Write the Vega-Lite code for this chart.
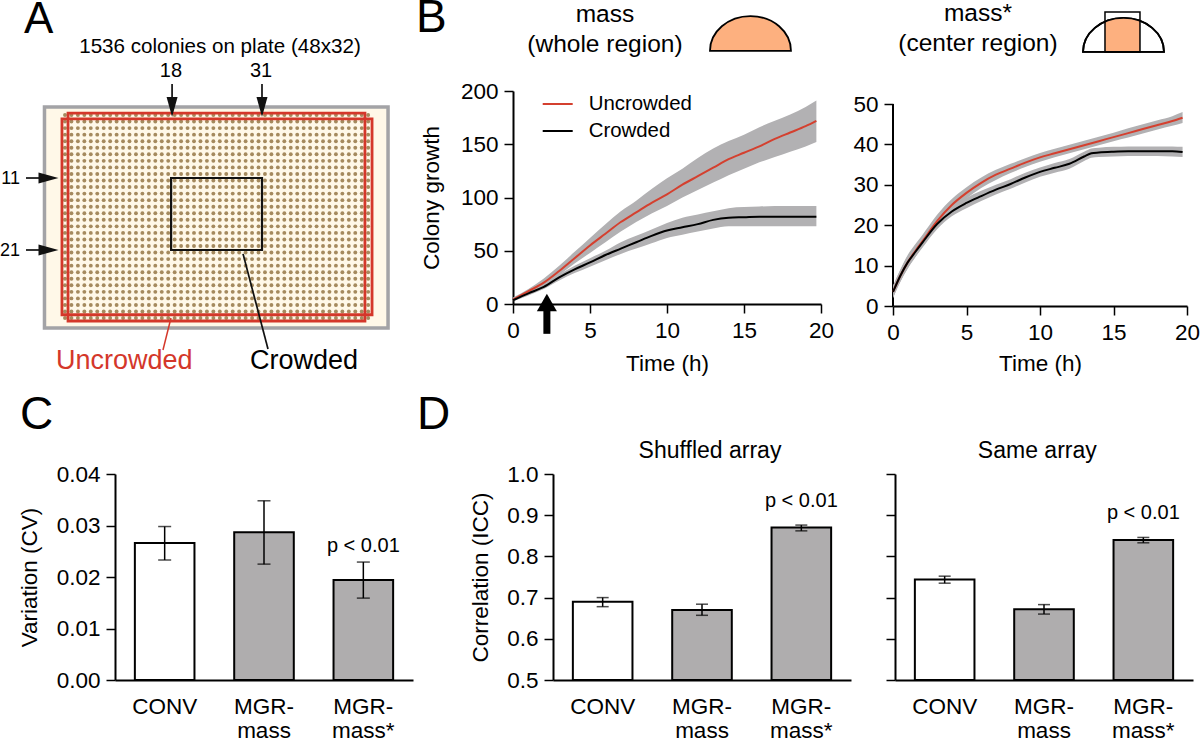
{
"$schema":"https://vega.github.io/schema/vega-lite/v6.json",
"autosize":{"type":"none"},
"padding":{"left":115,"top":91,"right":1085,"bottom":648},
"background":"white",
"bounds":"flush",
"spacing":383,
"config":{"view":{"stroke":null},"font":"Liberation Sans","axis":{"grid":false,"domainColor":"black","domainWidth":2,"tickColor":"black","tickWidth":1.5,"tickSize":9,"labelColor":"black","labelFont":"Liberation Sans","labelFontSize":22.5,"titleFont":"Liberation Sans","titleFontSize":22.5,"titleFontWeight":"normal","titleColor":"black","labelOverlap":false,"labelFlush":false,"labelPadding":6},"text":{"font":"Liberation Sans","color":"black"}},
"datasets":{
"whole":[
{"t":0,"s":"Uncrowded","m":4,"lo":3,"hi":6},{"t":1,"s":"Uncrowded","m":12,"lo":10,"hi":14},{"t":2,"s":"Uncrowded","m":20,"lo":17,"hi":24},{"t":3,"s":"Uncrowded","m":31,"lo":27,"hi":36},{"t":4,"s":"Uncrowded","m":43,"lo":38,"hi":49},{"t":5,"s":"Uncrowded","m":55,"lo":48,"hi":62},{"t":6,"s":"Uncrowded","m":66,"lo":58,"hi":75},{"t":7,"s":"Uncrowded","m":77,"lo":68,"hi":87},{"t":8,"s":"Uncrowded","m":86,"lo":77,"hi":97},{"t":9,"s":"Uncrowded","m":95,"lo":85,"hi":108},{"t":10,"s":"Uncrowded","m":103,"lo":92,"hi":118},{"t":11,"s":"Uncrowded","m":112,"lo":100,"hi":127},{"t":12,"s":"Uncrowded","m":120,"lo":107,"hi":137},{"t":13,"s":"Uncrowded","m":128,"lo":114,"hi":146},{"t":14,"s":"Uncrowded","m":136,"lo":121,"hi":153},{"t":15,"s":"Uncrowded","m":142,"lo":127,"hi":159},{"t":16,"s":"Uncrowded","m":148,"lo":133,"hi":166},{"t":17,"s":"Uncrowded","m":155,"lo":138,"hi":172},{"t":18,"s":"Uncrowded","m":161,"lo":143,"hi":178},{"t":19,"s":"Uncrowded","m":167,"lo":148,"hi":185},{"t":19.7,"s":"Uncrowded","m":172,"lo":152,"hi":191},
{"t":0,"s":"Crowded","m":3.5,"lo":2.5,"hi":5},{"t":1,"s":"Crowded","m":10,"lo":8,"hi":12},{"t":2,"s":"Crowded","m":16,"lo":14,"hi":19},{"t":3,"s":"Crowded","m":25,"lo":22,"hi":28},{"t":4,"s":"Crowded","m":32.5,"lo":29,"hi":36},{"t":5,"s":"Crowded","m":39,"lo":35,"hi":43},{"t":6,"s":"Crowded","m":46,"lo":41,"hi":50},{"t":7,"s":"Crowded","m":52,"lo":47,"hi":58},{"t":8,"s":"Crowded","m":58,"lo":52,"hi":64},{"t":9,"s":"Crowded","m":64,"lo":57,"hi":70},{"t":10,"s":"Crowded","m":69,"lo":62,"hi":76},{"t":11,"s":"Crowded","m":72,"lo":65,"hi":81},{"t":12,"s":"Crowded","m":75,"lo":68,"hi":84},{"t":13,"s":"Crowded","m":79,"lo":71,"hi":87},{"t":14,"s":"Crowded","m":81,"lo":73,"hi":90},{"t":15,"s":"Crowded","m":81.5,"lo":73,"hi":91},{"t":16,"s":"Crowded","m":82,"lo":73,"hi":91.5},{"t":17,"s":"Crowded","m":82,"lo":73,"hi":92},{"t":18,"s":"Crowded","m":82,"lo":73,"hi":92},{"t":19,"s":"Crowded","m":82,"lo":73,"hi":92},{"t":19.7,"s":"Crowded","m":82,"lo":73,"hi":92}],
"center":[
{"t":0,"s":"Uncrowded","m":3.5,"lo":2,"hi":5},{"t":0.5,"s":"Uncrowded","m":7.5,"lo":6,"hi":9},{"t":1,"s":"Uncrowded","m":10.8,"lo":9.3,"hi":12.6},{"t":1.5,"s":"Uncrowded","m":13.5,"lo":12,"hi":15.2},{"t":2,"s":"Uncrowded","m":16,"lo":14.6,"hi":17.6},{"t":3,"s":"Uncrowded","m":21,"lo":19.6,"hi":22.6},{"t":4,"s":"Uncrowded","m":25,"lo":23.6,"hi":26.5},{"t":5,"s":"Uncrowded","m":28,"lo":26.6,"hi":29.4},{"t":6,"s":"Uncrowded","m":30.5,"lo":29.2,"hi":31.8},{"t":7,"s":"Uncrowded","m":32.5,"lo":31.2,"hi":33.7},{"t":8,"s":"Uncrowded","m":34,"lo":32.9,"hi":35.2},{"t":9,"s":"Uncrowded","m":35.5,"lo":34.4,"hi":36.6},{"t":10,"s":"Uncrowded","m":36.8,"lo":35.7,"hi":37.9},{"t":11,"s":"Uncrowded","m":37.8,"lo":36.8,"hi":38.9},{"t":12,"s":"Uncrowded","m":38.8,"lo":37.8,"hi":39.9},{"t":13,"s":"Uncrowded","m":39.8,"lo":38.8,"hi":40.9},{"t":14,"s":"Uncrowded","m":40.8,"lo":39.8,"hi":41.9},{"t":15,"s":"Uncrowded","m":41.8,"lo":40.8,"hi":42.9},{"t":16,"s":"Uncrowded","m":42.8,"lo":41.7,"hi":44},{"t":17,"s":"Uncrowded","m":43.8,"lo":42.7,"hi":45},{"t":18,"s":"Uncrowded","m":44.8,"lo":43.7,"hi":46},{"t":19,"s":"Uncrowded","m":45.8,"lo":44.6,"hi":47},{"t":19.7,"s":"Uncrowded","m":46.6,"lo":45.3,"hi":48},
{"t":0,"s":"Crowded","m":3.5,"lo":2,"hi":5},{"t":0.5,"s":"Crowded","m":7.5,"lo":6,"hi":9},{"t":1,"s":"Crowded","m":10.8,"lo":9.3,"hi":12.3},{"t":1.5,"s":"Crowded","m":13.3,"lo":12,"hi":14.8},{"t":2,"s":"Crowded","m":15.7,"lo":14.4,"hi":17.2},{"t":3,"s":"Crowded","m":20.3,"lo":19,"hi":21.8},{"t":4,"s":"Crowded","m":23.4,"lo":22.2,"hi":24.8},{"t":5,"s":"Crowded","m":25.5,"lo":24.2,"hi":26.8},{"t":6,"s":"Crowded","m":27.2,"lo":26,"hi":28.5},{"t":7,"s":"Crowded","m":28.8,"lo":27.6,"hi":30},{"t":8,"s":"Crowded","m":30.2,"lo":29,"hi":31.4},{"t":9,"s":"Crowded","m":31.8,"lo":30.6,"hi":33},{"t":10,"s":"Crowded","m":33.2,"lo":32,"hi":34.3},{"t":11,"s":"Crowded","m":34.2,"lo":33,"hi":35.4},{"t":12,"s":"Crowded","m":35.2,"lo":34,"hi":36.4},{"t":13,"s":"Crowded","m":37,"lo":35.9,"hi":38.2},{"t":13.5,"s":"Crowded","m":37.8,"lo":36.7,"hi":39},{"t":14,"s":"Crowded","m":38,"lo":36.9,"hi":39.2},{"t":15,"s":"Crowded","m":38.2,"lo":37,"hi":39.4},{"t":16,"s":"Crowded","m":38.3,"lo":37.1,"hi":39.5},{"t":17,"s":"Crowded","m":38.3,"lo":37.1,"hi":39.5},{"t":18,"s":"Crowded","m":38.3,"lo":37.1,"hi":39.5},{"t":19,"s":"Crowded","m":38.3,"lo":37,"hi":39.5},{"t":19.7,"s":"Crowded","m":38.1,"lo":36.9,"hi":39.4}],
"cv":[{"k":"CONV","g":"conventional","v":0.0266,"lo":0.0233,"hi":0.0298},{"k":"MGR-mass","g":"MGR","v":0.0287,"lo":0.0225,"hi":0.0348},{"k":"MGR-mass*","g":"MGR","v":0.0194,"lo":0.0159,"hi":0.0229}],
"shuffled":[{"k":"CONV","g":"conventional","v":0.69,"lo":0.678,"hi":0.70},{"k":"MGR-mass","g":"MGR","v":0.67,"lo":0.657,"hi":0.684},{"k":"MGR-mass*","g":"MGR","v":0.87,"lo":0.862,"hi":0.876}],
"same":[{"k":"CONV","g":"conventional","v":0.744,"lo":0.735,"hi":0.752},{"k":"MGR-mass","g":"MGR","v":0.672,"lo":0.66,"hi":0.683},{"k":"MGR-mass*","g":"MGR","v":0.84,"lo":0.833,"hi":0.846}]
},
"vconcat":[
{"bounds":"flush","spacing":72,"hconcat":[
 {"width":326,"height":213,
  "encoding":{"x":{"field":"x","type":"quantitative","axis":null,"scale":{"domain":[8.752,59.29],"nice":false,"zero":false}},"y":{"field":"y","type":"quantitative","axis":null,"scale":{"domain":[29.855,-2.664],"nice":false,"zero":false}}},
  "layer":[
   {"data":{"values":[{"x":-2.18,"x2":51.08,"y":-0.22,"y2":33.52}]},"mark":{"type":"rect","fill":"#fff8e8","stroke":"#a3a3a6","strokeWidth":3.5},"encoding":{"x2":{"field":"x2"},"y2":{"field":"y2"}}},
   {"data":{"values":[{"y":[1,2,3,4,5,6,7,8,9,10,11,12,13,14,15,16,17,18,19,20,21,22,23,24,25,26,27,28,29,30,31,32],"x":[1,2,3,4,5,6,7,8,9,10,11,12,13,14,15,16,17,18,19,20,21,22,23,24,25,26,27,28,29,30,31,32,33,34,35,36,37,38,39,40,41,42,43,44,45,46,47,48]}]},"transform":[{"flatten":["y"]},{"flatten":["x"]}],"mark":{"type":"point","filled":true,"color":"#a58a5e","size":15,"opacity":1}},
   {"data":{"values":[{"x":0.53,"x2":48.6,"y":1.6,"y2":31.5},{"x":1.47,"x2":47.5,"y":0.7,"y2":32.45}]},"mark":{"type":"rect","fillOpacity":0,"stroke":"#d4372a","strokeWidth":2.8},"encoding":{"x2":{"field":"x2"},"y2":{"field":"y2"}}},
   {"data":{"values":[{"x":17.45,"x2":31.54,"y":10.62,"y2":21.61}]},"mark":{"type":"rect","fillOpacity":0,"stroke":"#111111","strokeWidth":2.2},"encoding":{"x2":{"field":"x2"},"y2":{"field":"y2"}}},
   {"data":{"values":[{"x":17.43,"x2":16.19,"y":32,"y2":36.88}]},"mark":{"type":"rule","stroke":"#d4372a","strokeWidth":1.5},"encoding":{"x2":{"field":"x2"},"y2":{"field":"y2"}}},
   {"data":{"values":[{"x":28.6,"x2":32.47,"y":22.2,"y2":36.73},{"x":17.6,"x2":17.6,"y":-3.73,"y2":-1.29},{"x":31.54,"x2":31.54,"y":-3.73,"y2":-1.29},{"x":-5.05,"x2":-2.57,"y":10.62,"y2":10.62},{"x":-5.05,"x2":-2.57,"y":21.61,"y2":21.61}]},"mark":{"type":"rule","stroke":"#111111","strokeWidth":1.7},"encoding":{"x2":{"field":"x2"},"y2":{"field":"y2"}}},
   {"data":{"values":[{"x":17.6,"y":-0.22},{"x":31.54,"y":-0.22}]},"mark":{"type":"point","filled":true,"color":"#111111","opacity":1,"size":400,"shape":"M0,1L-0.55,-1L0.55,-1Z"}},
   {"data":{"values":[{"x":-1.56,"y":10.62},{"x":-1.56,"y":21.61}]},"mark":{"type":"point","filled":true,"color":"#111111","opacity":1,"size":400,"shape":"M1,0L-1,-0.55L-1,0.55Z"}},
   {"data":{"values":[{"x":-5.36,"y":-11.5,"t":"A"}]},"mark":{"type":"text","fontSize":44,"align":"left","baseline":"alphabetic"},"encoding":{"text":{"field":"t"}}},
   {"data":{"values":[{"x":25.03,"y":-8.51,"t":"1536 colonies on plate (48x32)"}]},"mark":{"type":"text","fontSize":20.6,"align":"center","baseline":"alphabetic"},"encoding":{"text":{"field":"t"}}},
   {"data":{"values":[{"x":17.43,"y":-4.8,"t":"18"},{"x":31.39,"y":-4.8,"t":"31"}]},"mark":{"type":"text","fontSize":20,"align":"center","baseline":"alphabetic"},"encoding":{"text":{"field":"t"}}},
   {"data":{"values":[{"x":-5.98,"y":11.46,"t":"11"},{"x":-5.98,"y":22.5,"t":"21"}]},"mark":{"type":"text","fontSize":18,"align":"right","baseline":"alphabetic"},"encoding":{"text":{"field":"t"}}},
   {"data":{"values":[{"x":10.2,"y":39.8,"t":"Uncrowded"}]},"mark":{"type":"text","fontSize":27,"color":"#d4372a","align":"center","baseline":"alphabetic"},"encoding":{"text":{"field":"t"}}},
   {"data":{"values":[{"x":38.06,"y":39.8,"t":"Crowded"}]},"mark":{"type":"text","fontSize":27,"align":"center","baseline":"alphabetic"},"encoding":{"text":{"field":"t"}}}
  ]},
 {"bounds":"flush","spacing":72,"hconcat":[
  {"width":308,"height":213,
   "layer":[
    {"data":{"name":"whole"},"mark":{"type":"area","color":"#b2b1b3","opacity":1,"interpolate":"monotone"},"encoding":{"x":{"field":"t","type":"quantitative","title":"Time (h)","scale":{"domain":[0,20],"nice":false},"axis":{"values":[0,5,10,15,20],"titlePadding":11}},"y":{"field":"lo","type":"quantitative","title":"Colony growth","scale":{"domain":[0,200],"nice":false},"axis":{"values":[0,50,100,150,200],"titlePadding":17}},"y2":{"field":"hi"},"detail":{"field":"s"}}},
    {"data":{"name":"whole"},"mark":{"type":"line","strokeWidth":2,"interpolate":"monotone"},"encoding":{"x":{"field":"t","type":"quantitative"},"y":{"field":"m","type":"quantitative"},"color":{"field":"s","type":"nominal","scale":{"domain":["Uncrowded","Crowded"],"range":["#d4402f","#000000"]},"legend":{"orient":"none","legendX":426.7,"legendY":-3,"title":null,"symbolType":"stroke","symbolSize":900,"symbolStrokeWidth":2,"labelFontSize":20.4,"labelFont":"Liberation Sans","labelColor":"black","labelOffset":15,"rowPadding":-5}}}},
    {"data":{"values":[{"t":2.2,"y":-28,"y2":-6}]},"mark":{"type":"rule","color":"black","strokeWidth":7},"encoding":{"x":{"field":"t","type":"quantitative"},"y":{"field":"y","type":"quantitative"},"y2":{"field":"y2"}}},
    {"data":{"values":[{"t":2.2,"y":1.4}]},"mark":{"type":"point","shape":"triangle-up","filled":true,"color":"black","opacity":1,"size":400},"encoding":{"x":{"field":"t","type":"quantitative"},"y":{"field":"y","type":"quantitative"}}},
    {"data":{"values":[{"t":-6.3,"y":255,"c":"B"}]},"mark":{"type":"text","fontSize":46,"align":"left","baseline":"alphabetic"},"encoding":{"x":{"field":"t","type":"quantitative"},"y":{"field":"y","type":"quantitative"},"text":{"field":"c"}}},
    {"data":{"values":[{"t":5.97,"y":265,"c":"mass"},{"t":5.97,"y":236.6,"c":"(whole region)"}]},"mark":{"type":"text","fontSize":24.5,"align":"center","baseline":"alphabetic"},"encoding":{"x":{"field":"t","type":"quantitative"},"y":{"field":"y","type":"quantitative"},"text":{"field":"c"}}},
    {"data":{"values":[{"t":15.42,"y":254}]},"mark":{"type":"point","filled":true,"fill":"#fdb07f","stroke":"black","strokeWidth":1.8,"opacity":1,"size":6561,"shape":"M-1,.43A1,.86 0 0 1 1,.43Z"},"encoding":{"x":{"field":"t","type":"quantitative"},"y":{"field":"y","type":"quantitative"}}}
   ]},
  {"width":294,"height":215,
   "layer":[
    {"data":{"values":[{"t":0,"y":0,"y2":50}]},"mark":{"type":"rule","color":"black","strokeWidth":2},"encoding":{"x":{"field":"t","type":"quantitative","title":"Time (h)","scale":{"domain":[0,20],"nice":false},"axis":{"values":[0,5,10,15,20],"titlePadding":9}},"y":{"field":"y","type":"quantitative","title":null,"scale":{"domain":[0,53.22],"nice":false},"axis":{"values":[0,10,20,30,40,50],"domain":false}},"y2":{"field":"y2"}}},
    {"data":{"name":"center"},"mark":{"type":"area","color":"#b2b1b3","opacity":1,"interpolate":"monotone"},"encoding":{"x":{"field":"t","type":"quantitative"},"y":{"field":"lo","type":"quantitative"},"y2":{"field":"hi"},"detail":{"field":"s"}}},
    {"data":{"name":"center"},"mark":{"type":"line","strokeWidth":2,"interpolate":"monotone"},"encoding":{"x":{"field":"t","type":"quantitative"},"y":{"field":"m","type":"quantitative"},"color":{"field":"s","type":"nominal","scale":{"domain":["Uncrowded","Crowded"],"range":["#d4402f","#000000"]},"legend":null}}},
    {"data":{"values":[{"t":5.78,"y":70.5,"c":"mass*"},{"t":5.78,"y":63.1,"c":"(center region)"}]},"mark":{"type":"text","fontSize":24.5,"align":"center","baseline":"alphabetic"},"encoding":{"x":{"field":"t","type":"quantitative"},"y":{"field":"y","type":"quantitative"},"text":{"field":"c"}}},
    {"data":{"values":[{"t":15.68,"y":67.1}]},"mark":{"type":"point","filled":true,"fill":"white","stroke":"black","strokeWidth":1.8,"opacity":1,"size":6561,"shape":"M-1,.42A1,.84 0 0 1 1,.42Z"},"encoding":{"x":{"field":"t","type":"quantitative"},"y":{"field":"y","type":"quantitative"}}},
    {"data":{"values":[{"t":15.68,"y":67.1}]},"mark":{"type":"point","filled":true,"fill":"#fdb07f","strokeWidth":0,"opacity":1,"size":6561,"shape":"M-.457,.42L-.457,-.327A1,.84 0 0 1 .407,-.347L.407,.42Z"},"encoding":{"x":{"field":"t","type":"quantitative"},"y":{"field":"y","type":"quantitative"}}},
    {"data":{"values":[{"t":15.68,"y":67.1}]},"mark":{"type":"point","filled":false,"stroke":"black","strokeWidth":1.5,"opacity":1,"size":6561,"shape":"M-.457,.42L-.457,-.568L.407,-.568L.407,.42Z"},"encoding":{"x":{"field":"t","type":"quantitative"},"y":{"field":"y","type":"quantitative"}}},
    {"data":{"values":[{"t":15.68,"y":67.1}]},"mark":{"type":"point","filled":false,"stroke":"black","strokeWidth":1.8,"opacity":1,"size":6561,"shape":"M-1,.42A1,.84 0 0 1 1,.42Z"},"encoding":{"x":{"field":"t","type":"quantitative"},"y":{"field":"y","type":"quantitative"}}}
   ]}
 ]}
]},
{"bounds":"flush","spacing":140,"hconcat":[
 {"width":298,"height":206,
  "encoding":{"x":{"field":"k","type":"nominal","title":null,"scale":{"domain":["CONV","MGR-mass","MGR-mass*"],"paddingInner":0.4,"paddingOuter":0.2},"axis":{"ticks":false,"labelAngle":0,"labelPadding":15,"labelLineHeight":24,"labelExpr":"datum.value == 'CONV' ? 'CONV' : ['MGR-', slice(datum.value,4)]"}}},
  "layer":[
   {"data":{"name":"cv"},"mark":{"type":"bar","stroke":"black","strokeWidth":2},"encoding":{"y":{"field":"v","type":"quantitative","title":"Variation (CV)","scale":{"domain":[0,0.04],"nice":false},"axis":{"values":[0,0.01,0.02,0.03,0.04],"format":".2f","titlePadding":15}},"fill":{"field":"g","type":"nominal","scale":{"domain":["conventional","MGR"],"range":["#ffffff","#afadae"]},"legend":null}}},
   {"data":{"name":"cv"},"mark":{"type":"errorbar","ticks":{"size":13,"thickness":1.5,"color":"black"},"rule":{"strokeWidth":1.5,"color":"black"}},"encoding":{"y":{"field":"lo","type":"quantitative","title":"Variation (CV)"},"y2":{"field":"hi"}}},
   {"data":{"values":[{"k":"MGR-mass*","y":0.02485,"t":"p < 0.01"}]},"mark":{"type":"text","fontSize":20,"baseline":"alphabetic"},"encoding":{"y":{"field":"y","type":"quantitative","title":"Variation (CV)"},"text":{"field":"t"}}},
   {"data":{"values":[{"k":"CONV","y":0.04874,"t":"C"}]},"mark":{"type":"text","fontSize":46,"align":"left","baseline":"alphabetic","dx":-144.7},"encoding":{"y":{"field":"y","type":"quantitative","title":"Variation (CV)"},"text":{"field":"t"}}}
  ]},
 {"bounds":"flush","spacing":44,"hconcat":[
  {"width":298,"height":206,
   "encoding":{"x":{"field":"k","type":"nominal","title":null,"scale":{"domain":["CONV","MGR-mass","MGR-mass*"],"paddingInner":0.4,"paddingOuter":0.2},"axis":{"ticks":false,"labelAngle":0,"labelPadding":15,"labelLineHeight":24,"labelExpr":"datum.value == 'CONV' ? 'CONV' : ['MGR-', slice(datum.value,4)]"}}},
   "layer":[
    {"data":{"name":"shuffled"},"mark":{"type":"bar","stroke":"black","strokeWidth":2},"encoding":{"y":{"field":"v","type":"quantitative","title":"Correlation (ICC)","scale":{"domain":[0.5,1],"nice":false,"zero":false},"axis":{"values":[0.5,0.6,0.7,0.8,0.9,1],"format":".1f","titlePadding":14}},"y2":{"datum":0.5},"fill":{"field":"g","type":"nominal","scale":{"domain":["conventional","MGR"],"range":["#ffffff","#afadae"]},"legend":null}}},
    {"data":{"name":"shuffled"},"mark":{"type":"errorbar","ticks":{"size":12,"thickness":1.5,"color":"black"},"rule":{"strokeWidth":1.5,"color":"black"}},"encoding":{"y":{"field":"lo","type":"quantitative","title":"Correlation (ICC)"},"y2":{"field":"hi"}}},
    {"data":{"values":[{"k":"MGR-mass*","y":0.92,"t":"p < 0.01"}]},"mark":{"type":"text","fontSize":20,"baseline":"alphabetic"},"encoding":{"y":{"field":"y","type":"quantitative","title":"Correlation (ICC)"},"text":{"field":"t"}}},
    {"data":{"values":[{"k":"MGR-mass","y":1.039,"t":"Shuffled array"}]},"mark":{"type":"text","fontSize":23,"baseline":"alphabetic","dx":8},"encoding":{"y":{"field":"y","type":"quantitative","title":"Correlation (ICC)"},"text":{"field":"t"}}},
    {"data":{"values":[{"k":"CONV","y":1.109,"t":"D"}]},"mark":{"type":"text","fontSize":46,"align":"left","baseline":"alphabetic","dx":-185.7},"encoding":{"y":{"field":"y","type":"quantitative","title":"Correlation (ICC)"},"text":{"field":"t"}}}
   ]},
  {"width":298,"height":206,
   "encoding":{"x":{"field":"k","type":"nominal","title":null,"scale":{"domain":["CONV","MGR-mass","MGR-mass*"],"paddingInner":0.4,"paddingOuter":0.2},"axis":{"ticks":false,"labelAngle":0,"labelPadding":15,"labelLineHeight":24,"labelExpr":"datum.value == 'CONV' ? 'CONV' : ['MGR-', slice(datum.value,4)]"}}},
   "layer":[
    {"data":{"name":"same"},"mark":{"type":"bar","stroke":"black","strokeWidth":2},"encoding":{"y":{"field":"v","type":"quantitative","title":null,"scale":{"domain":[0.5,1],"nice":false,"zero":false},"axis":{"values":[0.5,0.6,0.7,0.8,0.9,1],"labels":false}},"y2":{"datum":0.5},"fill":{"field":"g","type":"nominal","scale":{"domain":["conventional","MGR"],"range":["#ffffff","#afadae"]},"legend":null}}},
    {"data":{"name":"same"},"mark":{"type":"errorbar","ticks":{"size":12,"thickness":1.5,"color":"black"},"rule":{"strokeWidth":1.5,"color":"black"}},"encoding":{"y":{"field":"lo","type":"quantitative","title":null},"y2":{"field":"hi"}}},
    {"data":{"values":[{"k":"MGR-mass*","y":0.891,"t":"p < 0.01"}]},"mark":{"type":"text","fontSize":20,"baseline":"alphabetic"},"encoding":{"y":{"field":"y","type":"quantitative","title":null},"text":{"field":"t"}}},
    {"data":{"values":[{"k":"MGR-mass","y":1.039,"t":"Same array"}]},"mark":{"type":"text","fontSize":23,"baseline":"alphabetic","dx":-6.7},"encoding":{"y":{"field":"y","type":"quantitative","title":null},"text":{"field":"t"}}}
   ]}
 ]}
]}
]
}
